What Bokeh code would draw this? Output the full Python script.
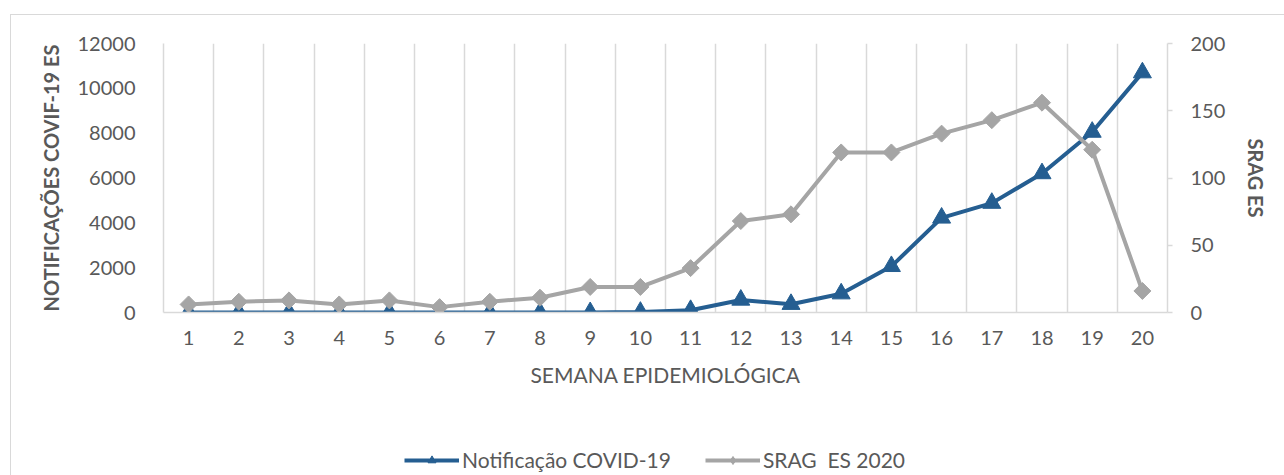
import numpy as np
from bokeh.plotting import figure
from bokeh.layouts import column
from bokeh.models import (Range1d, LinearAxis, FixedTicker, Legend, LegendItem)
from bokeh.embed import file_html
from bokeh.resources import INLINE

# ---- data ----
weeks = list(range(1, 21))
week_labels = {w: str(w) for w in weeks}
covid = [0, 0, 0, 0, 0, 0, 0, 0, 5, 20, 100, 560, 370, 840, 2060, 4220, 4880, 6200, 8050, 10700]
srag = [6, 8, 9, 6, 9, 4, 8, 11, 19, 19, 33, 68, 73, 119, 119, 133, 143, 156, 121, 16]
left_ticks = [0, 2000, 4000, 6000, 8000, 10000, 12000]
right_ticks = [0, 50, 100, 150, 200]
series_names = ["Notificação COVID-19", "SRAG  ES 2020"]
left_title = "NOTIFICAÇÕES COVIF-19 ES"
right_title = "SRAG ES"
x_title = "SEMANA EPIDEMIOLÓGICA"

FONT = "Lato"
TXT = "#595959"
GRID = "#D9D9D9"
BLUE = "#255E91"
GREY = "#A5A5A5"

p = figure(frame_width=1003, frame_height=268, output_backend="svg", toolbar_location=None,
           x_range=Range1d(0.5, 20.5), y_range=Range1d(0, 12000),
           min_border_left=152, min_border_right=118, min_border_top=28,
           min_border_bottom=90)
p.margin = (14, 0, 0, 10)
p.styles = {"border-left": "1px solid #D9D9D9", "border-top": "1px solid #D9D9D9"}
p.extra_y_ranges = {"right": Range1d(0, 200)}
p.outline_line_color = None
p.background_fill_color = "white"
p.border_fill_color = "white"

# grid
p.ygrid.visible = False
p.xgrid.ticker = FixedTicker(ticks=[w + 0.5 for w in weeks[:-1]])
p.xgrid.grid_line_color = GRID
p.xgrid.grid_line_width = 1.5

# x axis
xa = p.xaxis[0]
xa.ticker = FixedTicker(ticks=weeks)
xa.major_label_overrides = week_labels
xa.axis_line_color = GRID
xa.axis_line_width = 1.5
xa.major_tick_line_color = None
xa.minor_tick_line_color = None
xa.major_label_text_font = FONT
xa.major_label_text_font_size = "20px"
xa.major_label_text_color = TXT
xa.major_label_standoff = 12
xa.axis_label = x_title
xa.axis_label_text_font = FONT
xa.axis_label_text_font_style = "normal"
xa.axis_label_text_font_size = "21px"
xa.axis_label_text_color = TXT
xa.axis_label_standoff = 14

# left axis
ya = p.yaxis[0]
ya.ticker = FixedTicker(ticks=left_ticks)
ya.axis_line_color = GRID
ya.axis_line_width = 1.5
ya.major_tick_line_color = None
ya.minor_tick_line_color = None
ya.major_label_text_font = FONT
ya.major_label_text_font_size = "20px"
ya.major_label_text_color = TXT
ya.major_label_standoff = 22
ya.axis_label = left_title
ya.axis_label_text_font = FONT
ya.axis_label_text_font_style = "bold"
ya.axis_label_text_font_size = "20px"
ya.axis_label_text_color = TXT
ya.axis_label_standoff = 12

# right axis
ra = LinearAxis(y_range_name="right", ticker=FixedTicker(ticks=right_ticks))
ra.axis_line_color = GRID
ra.axis_line_width = 1.5
ra.major_tick_line_color = GRID
ra.major_tick_line_width = 1.5
ra.major_tick_out = 5
ra.major_tick_in = 0
ra.minor_tick_line_color = None
ra.major_label_text_font = FONT
ra.major_label_text_font_size = "20px"
ra.major_label_text_color = TXT
ra.major_label_standoff = 18
ra.axis_label = right_title
ra.axis_label_text_font = FONT
ra.axis_label_text_font_style = "bold"
ra.axis_label_text_font_size = "20px"
ra.axis_label_text_color = TXT
ra.axis_label_standoff = 16
p.add_layout(ra, "right")

# series
p.line(weeks, covid, line_color=BLUE, line_width=4)
p.scatter(weeks, covid, marker="triangle", size=18, fill_color=BLUE, line_color=BLUE)
p.line(weeks, srag, y_range_name="right", line_color=GREY, line_width=4)
p.scatter(weeks, srag, y_range_name="right", marker="square", angle=np.pi / 4,
          size=12, fill_color=GREY, line_color=GREY)

# ---- legend strip (separate figure so the legend is not clipped) ----
lg = figure(width=1274, height=74, output_backend="svg", toolbar_location=None,
            x_range=Range1d(0.5, 20.5), y_range=Range1d(0, 12000),
            x_axis_location=None, y_axis_location=None, min_border=0)
lg.margin = (0, 0, 0, 10)
lg.styles = {"border-left": "1px solid #D9D9D9"}
lg.grid.visible = False
lg.outline_line_color = None
lg.background_fill_color = "white"
lg.border_fill_color = "white"
lg.extra_y_ranges = {"right": Range1d(0, 200)}
k1 = lg.line(weeks, covid, line_color=BLUE, line_width=4, visible=False)
m1 = lg.scatter(weeks, covid, marker="triangle", size=18, fill_color=BLUE, line_color=BLUE,
                visible=False)
k2 = lg.line(weeks, srag, y_range_name="right", line_color=GREY, line_width=4, visible=False)
m2 = lg.scatter(weeks, srag, y_range_name="right", marker="diamond",
                size=14, fill_color=GREY, line_color=GREY, visible=False)

legend = Legend(items=[LegendItem(label=series_names[0], renderers=[k1, m1]),
                       LegendItem(label=series_names[1], renderers=[k2, m2])],
                orientation="horizontal", location=(241, 3),
                glyph_width=55, glyph_height=20, label_standoff=3, spacing=34,
                padding=0, margin=0, border_line_alpha=0, background_fill_alpha=0,
                inactive_fill_alpha=0,
                label_text_font=FONT, label_text_font_size="21px", label_text_color=TXT)
lg.add_layout(legend, "center")

layout = column(p, lg, spacing=0)
open("out.html", "w").write(file_html(layout, INLINE))
